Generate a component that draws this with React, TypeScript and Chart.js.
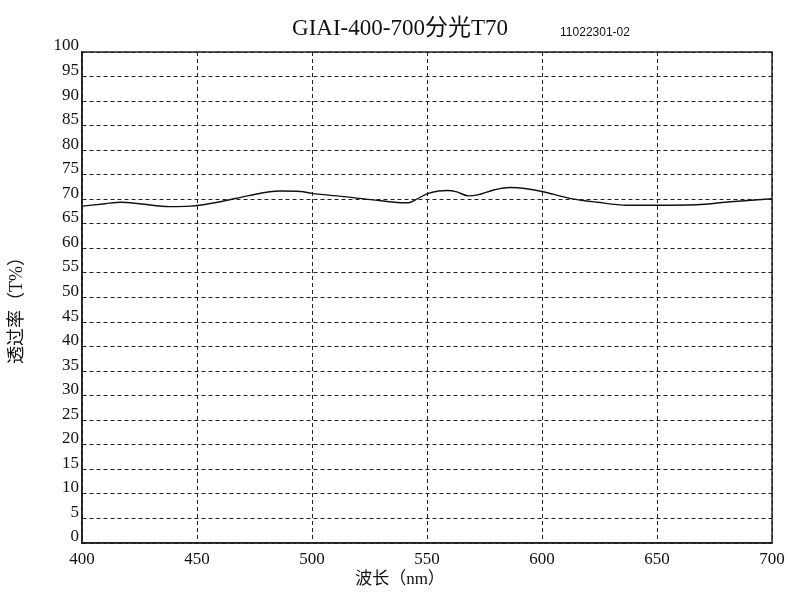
import React, { useEffect, useRef } from "react";
import { Chart, registerables } from "chart.js";

Chart.register(...registerables);

const wavelengths = [400, 410, 417, 425, 438, 447, 460, 472, 486, 495, 500, 515, 530, 540, 542, 545, 550, 555, 559, 563, 568, 572, 579, 586, 594, 600, 612, 624, 637, 650, 667, 682, 700];
const transmittance = [68.6, 69.1, 69.4, 69.1, 68.5, 68.6, 69.5, 70.7, 71.7, 71.6, 71.2, 70.5, 69.7, 69.3, 69.3, 69.9, 71.1, 71.7, 71.8, 71.5, 70.7, 70.9, 71.9, 72.4, 72.1, 71.6, 70.2, 69.4, 68.8, 68.8, 68.9, 69.5, 70.1];

const titleText = "GIAI-400-700分光T70";
const codeText = "11022301-02";
const xTitle = "波长（nm）";
const yTitle = "透过率（T%）";

const SERIF = "'Liberation Serif', 'Noto Sans CJK SC', serif";

const textPlugin = {
  id: "customTexts",
  afterDraw(chart: any) {
    const ctx = chart.ctx as CanvasRenderingContext2D;
    const a = chart.chartArea;
    ctx.save();
    // frame
    ctx.setLineDash([]);
    ctx.strokeStyle = "#222";
    ctx.lineWidth = 1.5;
    ctx.strokeRect(a.left, a.top, a.right - a.left, a.bottom - a.top);
    // title
    ctx.fillStyle = "#111";
    ctx.textAlign = "center";
    ctx.textBaseline = "middle";
    ctx.font = `23px ${SERIF}`;
    ctx.fillText(titleText, 400, 29);
    ctx.font = "12px 'Liberation Sans', sans-serif";
    ctx.fillText(codeText, 595, 33);
    // x title
    ctx.font = `17px ${SERIF}`;
    ctx.fillText(xTitle, 400, 580);
    // y title
    ctx.font = `18px ${SERIF}`;
    ctx.translate(17, 306);
    ctx.rotate(-Math.PI / 2);
    ctx.fillText(yTitle, 0, 0);
    ctx.restore();
  },
};

export default function App() {
  const ref = useRef<HTMLCanvasElement | null>(null);
  useEffect(() => {
    if (!ref.current) return;
    const points = wavelengths.map((w, i) => ({ x: w, y: transmittance[i] }));
    const chart = new Chart(ref.current, {
      type: "line",
      data: {
        datasets: [
          {
            data: points,
            borderColor: "#111",
            borderWidth: 1.4,
            pointRadius: 0,
            fill: false,
            cubicInterpolationMode: "monotone",
          },
        ],
      },
      options: {
        animation: false,
        responsive: false,
        devicePixelRatio: 1,
        layout: { padding: { left: 0, right: 28, top: 52, bottom: 0 } },
        plugins: { legend: { display: false }, title: { display: false }, tooltip: { enabled: false } },
        scales: {
          x: {
            type: "linear",
            min: 400,
            max: 700,
            afterFit: (s: any) => {
              s.height = 57;
            },
            ticks: {
              stepSize: 50,
              color: "#111",
              font: { family: SERIF, size: 17 },
              padding: 6,
              maxRotation: 0,
              autoSkip: false,
            },
            grid: { color: "#222", lineWidth: 1, drawTicks: false },
            border: { display: true, color: "#222", width: 1.5, dash: [4, 3] },
          },
          y: {
            min: 0,
            max: 100,
            afterFit: (s: any) => {
              s.width = 82;
            },
            ticks: {
              stepSize: 5,
              color: "#111",
              font: { family: SERIF, size: 17 },
              padding: 3,
              labelOffset: -6,
              autoSkip: false,
            },
            grid: { color: "#222", lineWidth: 1, drawTicks: false },
            border: { display: true, color: "#222", width: 1.5, dash: [4, 3] },
          },
        },
      },
      plugins: [textPlugin],
    });
    return () => chart.destroy();
  }, []);
  return (
    <div style={{ position: "absolute", left: 0, top: 0, width: 800, height: 600, background: "#fff" }}>
      <canvas ref={ref} width={800} height={600} style={{ width: 800, height: 600, display: "block" }} />
    </div>
  );
}
